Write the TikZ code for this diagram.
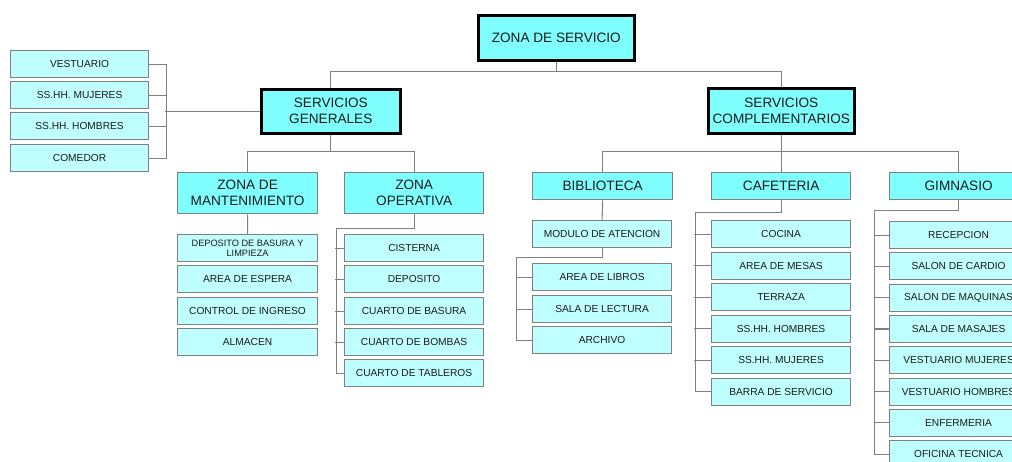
\documentclass[tikz,border=0pt]{standalone}
\usepackage{fontspec}
\setmainfont{Liberation Sans}
\definecolor{hcyan}{HTML}{80FFFF}
\definecolor{lcyan}{HTML}{C0FFFF}
\definecolor{bgray}{HTML}{808080}
\definecolor{tx}{HTML}{1A1A1A}
\tikzset{
  base/.style={anchor=north west, inner sep=0pt, align=center, text=tx},
  topbox/.style={base, draw=black, line width=2.6pt, fill=hcyan, font=\fontsize{13.6}{16}\selectfont},
  subbox/.style={base, draw=bgray, line width=1.3pt, fill=hcyan, font=\fontsize{13.6}{16}\selectfont},
  leaf/.style={base, draw=bgray, line width=1.1pt, fill=lcyan, minimum height=27pt, font=\fontsize{10.2}{11}\selectfont},
  conn/.style={draw=bgray, line width=1.1pt},
}
\begin{document}
\begin{tikzpicture}[x=1pt,y=-1pt]
\useasboundingbox (0,0) rectangle (1012,461);
\clip (0,0) rectangle (1012,461);
% level 0/1
\node[topbox, minimum width=156pt, minimum height=45pt] (zs) at (477,14) {ZONA DE SERVICIO};
\node[topbox, minimum width=139pt, minimum height=44pt] (sg) at (260,88) {SERVICIOS\\GENERALES};
\node[topbox, minimum width=146pt, minimum height=45pt] (sc) at (707,87) {SERVICIOS\\COMPLEMENTARIOS};
% left group
\node[leaf, minimum width=138pt] (ves) at (10,50) {VESTUARIO};
\node[leaf, minimum width=138pt] (muj) at (10,81) {SS.HH. MUJERES};
\node[leaf, minimum width=138pt] (hom) at (10,112) {SS.HH. HOMBRES};
\node[leaf, minimum width=138pt] (com) at (10,144) {COMEDOR};
% level 2
\node[subbox, minimum width=140pt, minimum height=41pt] (zm) at (177,172) {ZONA DE\\MANTENIMIENTO};
\node[subbox, minimum width=139pt, minimum height=41pt] (zo) at (344,172) {ZONA\\OPERATIVA};
\node[subbox, minimum width=140pt, minimum height=27pt] (bib) at (532,172) {BIBLIOTECA};
\node[subbox, minimum width=139pt, minimum height=27pt] (caf) at (711,172) {CAFETERIA};
\node[subbox, minimum width=138pt, minimum height=27pt] (gim) at (889,172) {GIMNASIO};
% mantenimiento
\node[leaf, minimum width=140pt, font=\fontsize{9.2}{10}\selectfont] (dbl) at (177,234) {DEPOSITO DE BASURA Y\\LIMPIEZA};
\node[leaf, minimum width=140pt] (are) at (177,265) {AREA DE ESPERA};
\node[leaf, minimum width=140pt] (cin) at (177,297) {CONTROL DE INGRESO};
\node[leaf, minimum width=140pt] (alm) at (177,328) {ALMACEN};
% operativa
\node[leaf, minimum width=139pt] (cis) at (344,234) {CISTERNA};
\node[leaf, minimum width=139pt] (dpo) at (344,265) {DEPOSITO};
\node[leaf, minimum width=139pt] (cba) at (344,297) {CUARTO DE BASURA};
\node[leaf, minimum width=139pt] (cbo) at (344,328) {CUARTO DE BOMBAS};
\node[leaf, minimum width=139pt] (cta) at (344,359) {CUARTO DE TABLEROS};
% biblioteca
\node[leaf, minimum width=139pt] (mod) at (532,220) {MODULO DE ATENCION};
\node[leaf, minimum width=139pt] (ali) at (532,263) {AREA DE LIBROS};
\node[leaf, minimum width=139pt] (sle) at (532,295) {SALA DE LECTURA};
\node[leaf, minimum width=139pt] (arc) at (532,326) {ARCHIVO};
% cafeteria
\node[leaf, minimum width=139pt] (coc) at (711,220) {COCINA};
\node[leaf, minimum width=139pt] (ame) at (711,251.5) {AREA DE MESAS};
\node[leaf, minimum width=139pt] (ter) at (711,283) {TERRAZA};
\node[leaf, minimum width=139pt] (cho) at (711,314.5) {SS.HH. HOMBRES};
\node[leaf, minimum width=139pt] (cmu) at (711,346) {SS.HH. MUJERES};
\node[leaf, minimum width=139pt] (bar) at (711,377.5) {BARRA DE SERVICIO};
% gimnasio
\node[leaf, minimum width=138pt] (rec) at (889,221) {RECEPCION};
\node[leaf, minimum width=138pt] (sca) at (889,252.3) {SALON DE CARDIO};
\node[leaf, minimum width=138pt] (sma) at (889,283.6) {SALON DE MAQUINAS};
\node[leaf, minimum width=138pt] (sms) at (889,314.9) {SALA DE MASAJES};
\node[leaf, minimum width=138pt] (vmu) at (889,346.2) {VESTUARIO MUJERES};
\node[leaf, minimum width=138pt] (vho) at (889,377.5) {VESTUARIO HOMBRES};
\node[leaf, minimum width=138pt] (enf) at (889,408.8) {ENFERMERIA};
\node[leaf, minimum width=138pt] (ofi) at (889,440.1) {OFICINA TECNICA};
% connectors
\draw[conn] (zs.south) -- ++(0,10) -| (sg.north);
\draw[conn] (zs.south) -- ++(0,10) -| (sc.north);
\draw[conn] (ves.east) -- ++(17,0) |- (com.east);
\draw[conn] (muj.east) -- ++(17,0);
\draw[conn] (hom.east) -- ++(17,0);
\draw[conn] (sg.west) -- ++(-95,0);
\draw[conn] (sg.south) -- ++(0,17) -| (zm.north);
\draw[conn] (sg.south) -- ++(0,17) -| (zo.north);
\draw[conn] (sc.south) -- ++(0,17) -| (bib.north);
\draw[conn] (sc.south) -- ++(0,17) -| (caf.north);
\draw[conn] (sc.south) -- ++(0,17) -| (gim.north);
\draw[conn] (zm.south) -- (dbl.north);
\draw[conn] (zo.south) -- ++(0,14) -- ++(-78,0) |- (cta.west);
\foreach \n in {cis,dpo,cba,cbo} \draw[conn] (\n.west) -- ++(-9,0);
\draw[conn] (bib.south) -- (mod.north);
\draw[conn] (mod.south) -- ++(0,9) -- ++(-86,0) |- (arc.west);
\foreach \n in {ali,sle} \draw[conn] (\n.west) -- ++(-16,0);
\draw[conn] (caf.south) -- ++(0,12) -- ++(-86,0) |- (bar.west);
\foreach \n in {coc,ame,ter,cho,cmu} \draw[conn] (\n.west) -- ++(-17,0);
\draw[conn] (gim.south) -- ++(0,10) -- ++(-84,0) |- (ofi.west);
\foreach \n in {rec,sca,sma,sms,vmu,vho,enf} \draw[conn] (\n.west) -- ++(-15,0);
\end{tikzpicture}
\end{document}
